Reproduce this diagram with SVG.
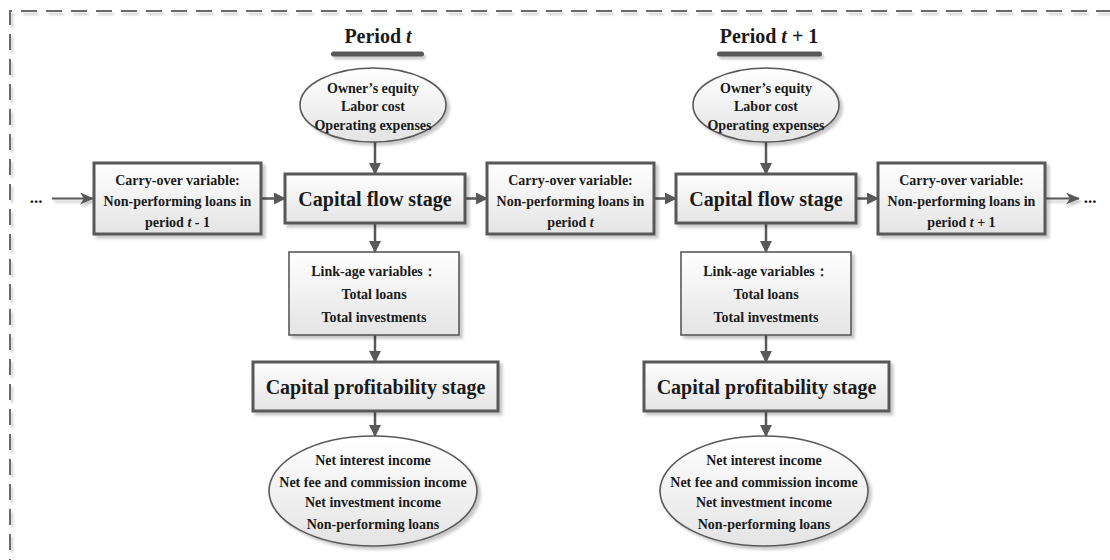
<svg xmlns="http://www.w3.org/2000/svg" width="1110" height="560" viewBox="0 0 1110 560">
<defs>
<linearGradient id="g" x1="0" y1="0" x2="0" y2="1">
<stop offset="0" stop-color="#ffffff"/>
<stop offset="1" stop-color="#e4e4e4"/>
</linearGradient>
<filter id="sh" x="-10%" y="-10%" width="130%" height="140%">
<feDropShadow dx="3" dy="3" stdDeviation="1.5" flood-color="#000" flood-opacity="0.22"/>
</filter>
<filter id="shu" filterUnits="userSpaceOnUse" x="0" y="0" width="1110" height="560">
<feDropShadow dx="2" dy="3" stdDeviation="1.2" flood-color="#000" flood-opacity="0.2"/>
</filter>
<marker id="ah" viewBox="0 0 12 12" refX="11" refY="6" markerWidth="12" markerHeight="12" markerUnits="userSpaceOnUse" orient="auto">
<path d="M0,0 L12,6 L0,12 Z" fill="#595959"/>
</marker>
<marker id="ah2" viewBox="0 0 14 12" refX="13" refY="6" markerWidth="14" markerHeight="12" markerUnits="userSpaceOnUse" orient="auto">
<path d="M0,0 L14,6 L0,12 L4,6 Z" fill="#595959"/>
</marker>
<style>
text{font-family:"Liberation Serif","Times New Roman",serif;font-weight:bold;fill:#1a1a1a;text-anchor:middle}
.s{font-size:14px}
.b{font-size:20px}
.d{font-size:17px}
.box{fill:url(#g);stroke:#595959;stroke-width:3;filter:url(#sh)}
.thin{fill:url(#g);stroke:#595959;stroke-width:1.6;filter:url(#sh)}
.ell{fill:url(#g);stroke:#595959;stroke-width:1.6;filter:url(#sh)}
.c{stroke:#595959;stroke-width:2.5;fill:none;marker-end:url(#ah)}
.c2{stroke:#595959;stroke-width:2;fill:none;marker-end:url(#ah2);filter:url(#shu)}
.bar{fill:#595959;filter:url(#shu)}
</style>
</defs>
<rect width="1110" height="560" fill="#ffffff"/>
<path d="M10,575 V11 H1120" fill="none" stroke="#6b6b6b" stroke-width="2" stroke-dasharray="16 9" filter="url(#shu)"/>

<g id="period-t">
<text class="b" x="378" y="43">Period <tspan font-style="italic">t</tspan></text>
<rect class="bar" x="331" y="51.5" width="93" height="5" rx="2.5"/>
</g>
<g id="period-t1">
<text class="b" x="769" y="43">Period <tspan font-style="italic">t</tspan> + 1</text>
<rect class="bar" x="717" y="51.5" width="105" height="5" rx="2.5"/>
</g>

<g id="connectors">
<line class="c2" x1="52" y1="198.5" x2="93" y2="198.5"/>
<line class="c" x1="262" y1="198.5" x2="285" y2="198.5"/>
<line class="c" x1="465" y1="198.5" x2="487" y2="198.5"/>
<line class="c" x1="655" y1="198.5" x2="676" y2="198.5"/>
<line class="c" x1="857" y1="198.5" x2="878" y2="198.5"/>
<line class="c2" x1="1046" y1="198.5" x2="1079" y2="198.5"/>
<line class="c" x1="375" y1="142" x2="375" y2="174"/>
<line class="c" x1="375" y1="224" x2="375" y2="252"/>
<line class="c" x1="375" y1="335" x2="375" y2="362"/>
<line class="c" x1="375" y1="412" x2="375" y2="436"/>
<line class="c" x1="766" y1="142" x2="766" y2="174"/>
<line class="c" x1="766" y1="224" x2="766" y2="252"/>
<line class="c" x1="766" y1="335" x2="766" y2="362"/>
<line class="c" x1="766" y1="412" x2="766" y2="436"/>
</g>

<g id="dots-left"><text class="d" x="36" y="203">...</text></g>
<g id="dots-right"><text class="d" x="1090" y="203">...</text></g>

<g id="inputs-t">
<ellipse class="ell" cx="373" cy="105" rx="73" ry="37"/>
<text class="s" x="373" y="93">Owner’s equity</text>
<text class="s" x="373" y="111">Labor cost</text>
<text class="s" x="373" y="130">Operating expenses</text>
</g>
<g id="inputs-t1">
<ellipse class="ell" cx="766" cy="105" rx="73" ry="37"/>
<text class="s" x="766" y="93">Owner’s equity</text>
<text class="s" x="766" y="111">Labor cost</text>
<text class="s" x="766" y="130">Operating expenses</text>
</g>

<g id="carry-t-1">
<rect class="box" x="94" y="163" width="167" height="71"/>
<text class="s" x="177.5" y="185">Carry-over variable:</text>
<text class="s" x="177.5" y="206">Non-performing loans in</text>
<text class="s" x="177.5" y="227">period <tspan font-style="italic">t</tspan> - 1</text>
</g>
<g id="carry-t">
<rect class="box" x="487" y="163" width="167" height="71"/>
<text class="s" x="570.5" y="185">Carry-over variable:</text>
<text class="s" x="570.5" y="206">Non-performing loans in</text>
<text class="s" x="570.5" y="227">period <tspan font-style="italic">t</tspan></text>
</g>
<g id="carry-t1">
<rect class="box" x="878" y="163" width="167" height="71"/>
<text class="s" x="961.5" y="185">Carry-over variable:</text>
<text class="s" x="961.5" y="206">Non-performing loans in</text>
<text class="s" x="961.5" y="227">period <tspan font-style="italic">t</tspan> + 1</text>
</g>

<g id="flow-t">
<rect class="box" x="285" y="174" width="180" height="49"/>
<text class="b" x="375" y="206">Capital flow stage</text>
</g>
<g id="flow-t1">
<rect class="box" x="676" y="174" width="180" height="49"/>
<text class="b" x="766" y="206">Capital flow stage</text>
</g>

<g id="link-t">
<rect class="thin" x="289" y="252" width="170" height="83"/>
<text class="s" x="374" y="276">Link-age variables：</text>
<text class="s" x="374" y="299">Total loans</text>
<text class="s" x="374" y="322">Total investments</text>
</g>
<g id="link-t1">
<rect class="thin" x="681" y="252" width="170" height="83"/>
<text class="s" x="766" y="276">Link-age variables：</text>
<text class="s" x="766" y="299">Total loans</text>
<text class="s" x="766" y="322">Total investments</text>
</g>

<g id="profit-t">
<rect class="box" x="253" y="362" width="245" height="49"/>
<text class="b" x="375.5" y="394">Capital profitability stage</text>
</g>
<g id="profit-t1">
<rect class="box" x="644" y="362" width="245" height="49"/>
<text class="b" x="766.5" y="394">Capital profitability stage</text>
</g>

<g id="outputs-t">
<ellipse class="ell" cx="373" cy="491" rx="104" ry="55"/>
<text class="s" x="373" y="465">Net interest income</text>
<text class="s" x="373" y="487">Net fee and commission income</text>
<text class="s" x="373" y="507">Net investment income</text>
<text class="s" x="373" y="529">Non-performing loans</text>
</g>
<g id="outputs-t1">
<ellipse class="ell" cx="764" cy="491" rx="104" ry="55"/>
<text class="s" x="764" y="465">Net interest income</text>
<text class="s" x="764" y="487">Net fee and commission income</text>
<text class="s" x="764" y="507">Net investment income</text>
<text class="s" x="764" y="529">Non-performing loans</text>
</g>
</svg>
